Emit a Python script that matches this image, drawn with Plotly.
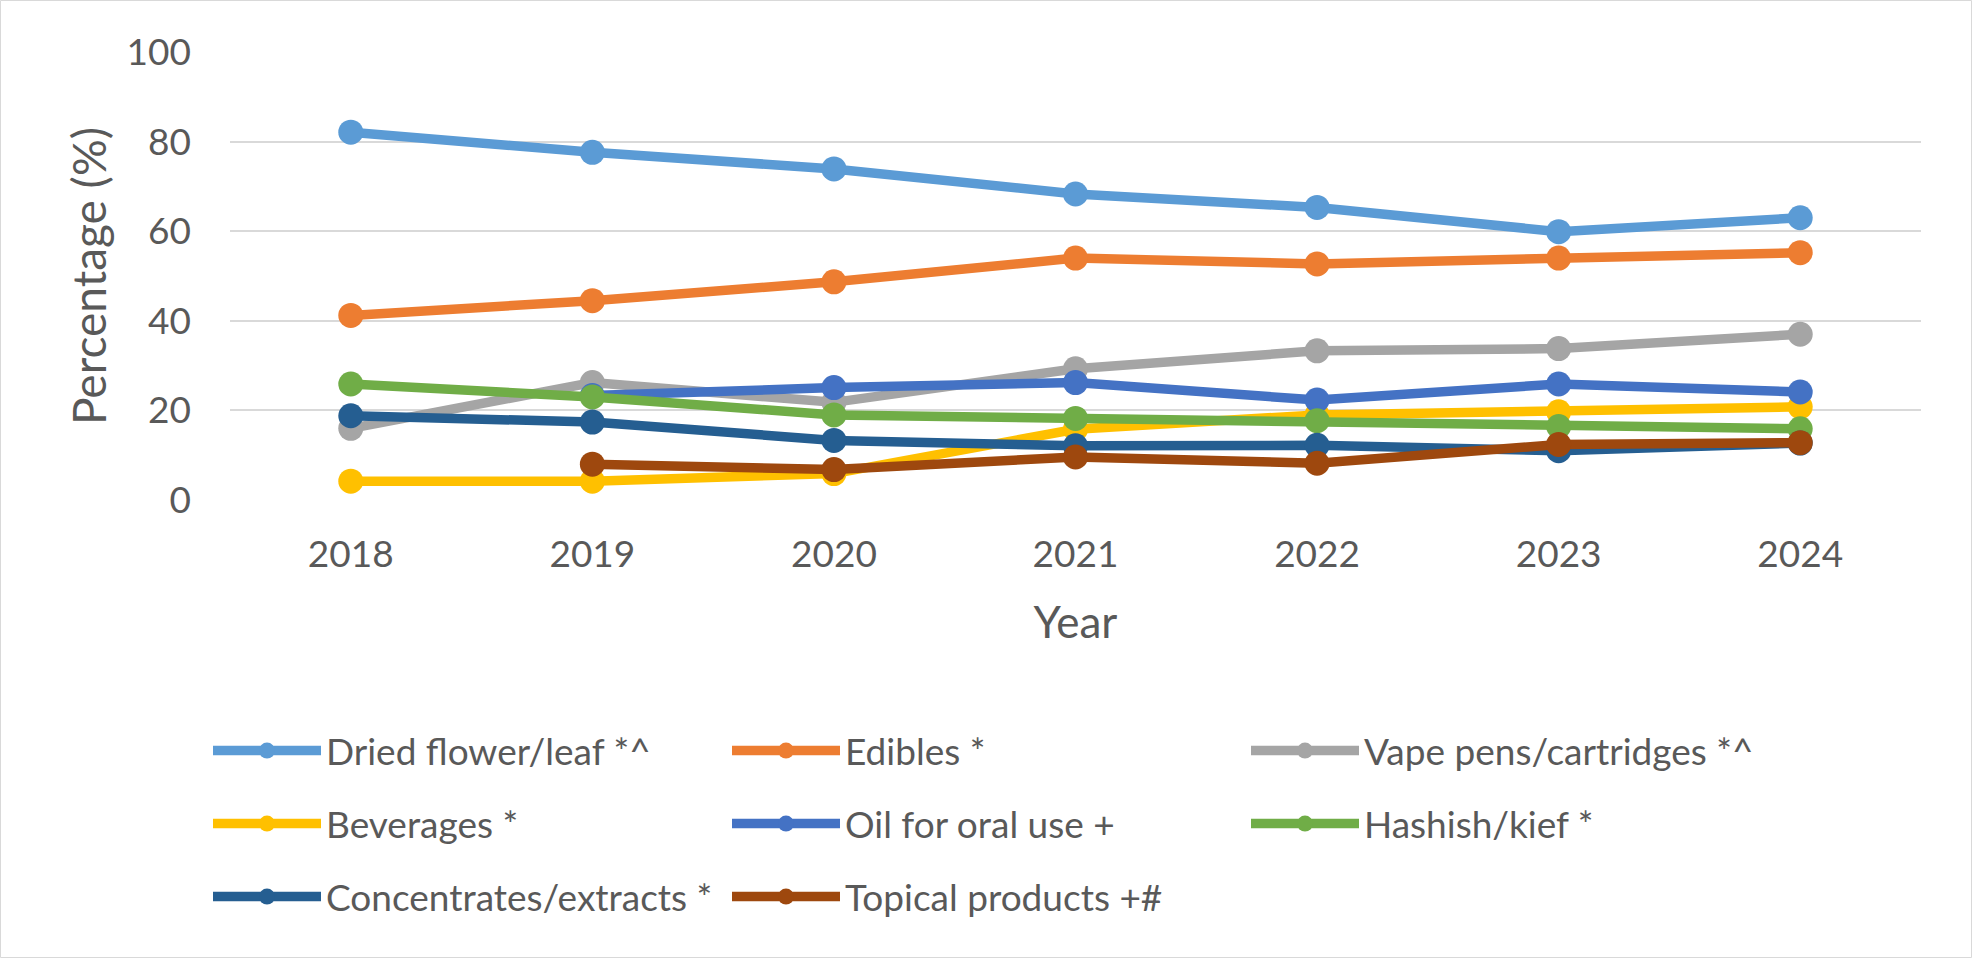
import plotly.graph_objects as go

years = ["2018", "2019", "2020", "2021", "2022", "2023", "2024"]

dried_flower = [82.1, 77.6, 73.9, 68.3, 65.3, 59.9, 63.0]
edibles = [41.2, 44.5, 48.7, 54.0, 52.7, 54.0, 55.2]
vape_pens = [16.0, 26.2, 21.8, 29.3, 33.3, 33.8, 37.0]
beverages = [4.2, 4.2, 5.9, 15.8, 19.0, 19.7, 20.8]
oil_oral = [None, 23.3, 25.1, 26.2, 22.3, 25.9, 24.1]
hashish = [25.9, 23.0, 19.0, 18.2, 17.7, 16.4, 15.9]
concentrates = [18.8, 17.4, 13.3, 12.1, 12.2, 11.0, 12.7]
topical = [None, 8.0, 6.8, 9.6, 8.2, 12.4, 12.8]

series_names = [
    "Dried flower/leaf *^", "Edibles *", "Vape pens/cartridges *^",
    "Beverages *", "Oil for oral use +", "Hashish/kief *",
    "Concentrates/extracts *", "Topical products +#",
]
series_values = [dried_flower, edibles, vape_pens, beverages, oil_oral,
                 hashish, concentrates, topical]
colors = ["#5B9BD5", "#ED7D31", "#A5A5A5", "#FFC000", "#4472C4",
          "#70AD47", "#255E91", "#9E480E"]
legend_rows = ["legend", "legend", "legend", "legend2", "legend2", "legend2",
               "legend3", "legend3"]

W, H = 1972, 958
ML, MR, MT, MB = 230, 51, 52, 458
PW, PH = W - ML - MR, H - MT - MB

FONT = "Lato"
TXT = "#595959"
GRID = "#D9D9D9"

fig = go.Figure()
for name, vals, col, lg in zip(series_names, series_values, colors, legend_rows):
    fig.add_trace(go.Scatter(
        x=years, y=vals, name=name, mode="lines+markers",
        line=dict(color=col, width=9.5),
        marker=dict(color=col, size=25),
        legend=lg, connectgaps=False,
    ))

def py(pix):
    return (MT + PH - pix) / PH

def px(pix):
    return (pix - ML) / PW

legend_common = dict(
    orientation="h", xanchor="left", yanchor="middle",
    font=dict(family=FONT, size=37, color=TXT),
    entrywidth=396, entrywidthmode="pixels", itemwidth=108,
    bgcolor="rgba(0,0,0,0)", borderwidth=0,
)

LEG_X = px(208)

fig.update_layout(
    width=W, height=H,
    margin=dict(l=ML, r=MR, t=MT, b=MB, pad=0),
    paper_bgcolor="white", plot_bgcolor="white",
    font=dict(family=FONT, color=TXT),
    xaxis=dict(
        type="category", range=[-0.5, 6.5],
        showgrid=False, zeroline=False, showline=False, ticks="",
        tickfont=dict(family=FONT, size=37, color=TXT),
        ticklabelstandoff=29,
        title=dict(text="Year", font=dict(family=FONT, size=44, color=TXT),
                   standoff=33),
    ),
    yaxis=dict(
        range=[0, 100], dtick=20, tick0=0,
        showgrid=True, gridcolor=GRID, gridwidth=2,
        zeroline=False, showline=False, ticks="",
        tickfont=dict(family=FONT, size=37, color=TXT),
        ticklabelstandoff=38,
        title=dict(text="Percentage (%)", font=dict(family=FONT, size=46, color=TXT),
                   standoff=5),
    ),
    legend=dict(x=LEG_X, y=py(751), **legend_common),
    legend2=dict(x=LEG_X, y=py(824), **legend_common),
    legend3=dict(x=LEG_X, y=py(897), **legend_common),
    shapes=[dict(
        type="rect", xref="paper", yref="paper",
        x0=px(0.5), x1=px(W - 0.5), y0=py(H - 0.5), y1=py(0.5),
        line=dict(color=GRID, width=1), fillcolor="rgba(0,0,0,0)", layer="below",
    )],
)

fig.write_html("out.html", config={"displayModeBar": False},
               post_script="document.body.style.margin='0';")
